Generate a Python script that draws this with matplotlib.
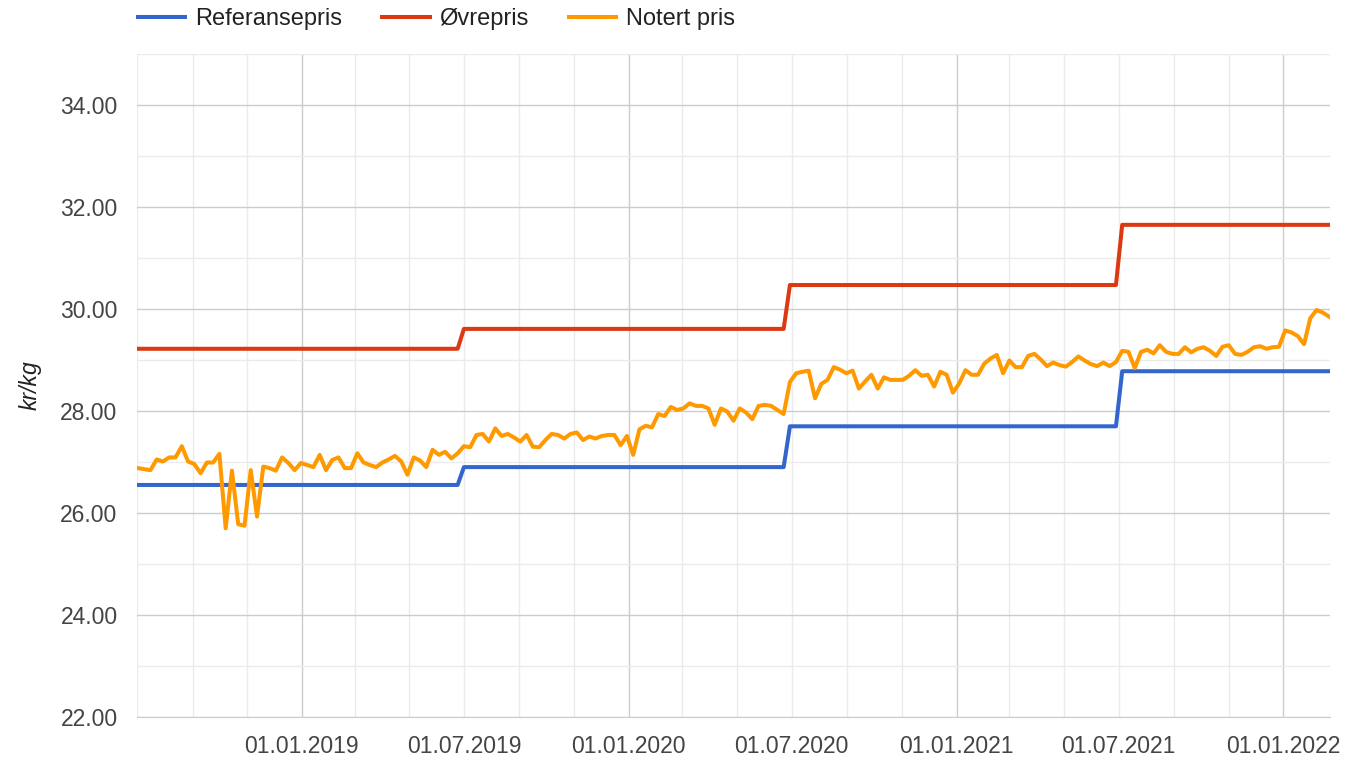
import matplotlib.pyplot as plt
import matplotlib.dates as mdates
import numpy as np
import pandas as pd

plt.rcParams['font.family'] = ['Liberation Sans', 'DejaVu Sans']

# Ukentlige noteringer (kr/kg), første uke 02.07.2018
start_week = '2018-07-02'
notert = [
    26.88, 26.86, 26.84, 27.05, 27.01, 27.09, 27.09, 27.31, 27.01, 26.96,
    26.78, 26.99, 26.99, 27.16, 25.70, 26.83, 25.78, 25.75, 26.84, 25.93,
    26.91, 26.88, 26.83, 27.09, 26.98, 26.84, 26.98, 26.94,
    26.90, 27.14, 26.84, 27.04, 27.09, 26.88, 26.88, 27.17, 26.99, 26.94,
    26.90, 26.99, 27.05, 27.12, 27.01, 26.75, 27.09, 27.03, 26.90, 27.24,
    27.14, 27.20, 27.07, 27.17, 27.31, 27.29,
    27.53, 27.55, 27.40, 27.66, 27.51, 27.55, 27.48, 27.40, 27.53, 27.30,
    27.29, 27.43, 27.55, 27.53, 27.46, 27.55, 27.58, 27.43, 27.50, 27.46,
    27.51, 27.53, 27.53, 27.33, 27.51, 27.14,
    27.64, 27.71, 27.68, 27.94, 27.90, 28.08, 28.02, 28.05, 28.15, 28.10,
    28.10, 28.05, 27.73, 28.05, 27.99, 27.81, 28.05, 27.97, 27.84, 28.10,
    28.12, 28.10, 28.02, 27.94, 28.57, 28.74,
    28.77, 28.79, 28.25, 28.53, 28.61, 28.86, 28.81, 28.74, 28.79, 28.44,
    28.58, 28.71, 28.44, 28.66, 28.61, 28.61, 28.61, 28.69, 28.80, 28.69,
    28.71, 28.48, 28.77, 28.71, 28.36, 28.54,
    28.80, 28.71, 28.71, 28.93, 29.03, 29.10, 28.74, 28.99, 28.86, 28.86,
    29.08, 29.12, 29.01, 28.88, 28.95, 28.90, 28.87, 28.96, 29.07, 28.99,
    28.92, 28.88, 28.95, 28.88, 28.96, 29.18, 29.16,
    28.84, 29.16, 29.20, 29.13, 29.29, 29.16, 29.12, 29.12, 29.25, 29.15,
    29.22, 29.25, 29.18, 29.08, 29.26, 29.29, 29.12, 29.10, 29.16, 29.25,
    29.27, 29.22, 29.25, 29.26, 29.58, 29.54, 29.47, 29.31, 29.82, 29.98,
    29.93, 29.85,
]

# Faste priser per periode, endres ved disse datoene
change_dates = ['2019-07-01', '2020-06-29', '2021-07-05']
ref_levels = [26.55, 26.90, 27.70, 28.78]
ovre_levels = [29.22, 29.61, 30.47, 31.65]

tick_dates = ['2019-01-01', '2019-07-01', '2020-01-01', '2020-07-01',
              '2021-01-01', '2021-07-01', '2022-01-01']

dates = pd.date_range(start_week, periods=len(notert), freq='7D')
period = np.searchsorted(pd.to_datetime(change_dates), dates, side='right')
referanse = np.array(ref_levels)[period]
ovre = np.array(ovre_levels)[period]

fig = plt.figure(figsize=(13.48, 7.58), dpi=100)
ax = fig.add_axes([137 / 1348, 1 - 717 / 758, (1330 - 137) / 1348, (717 - 54) / 758])

lw = 2.9
ax.plot(dates, referanse, color='#3366cc', lw=lw, label='Referansepris', solid_joinstyle='round')
ax.plot(dates, ovre, color='#dc3912', lw=lw, label='Øvrepris', solid_joinstyle='round')
ax.plot(dates, notert, color='#ff9900', lw=lw, label='Notert pris', solid_joinstyle='round')

ax.set_xlim(pd.Timestamp('2018-07-01'), dates[-1] + pd.Timedelta(days=1))
ax.set_ylim(22, 35)

# y-akse
ax.set_yticks(np.arange(22, 35, 2))
ax.set_yticks(np.arange(23, 36, 2), minor=True)
ax.set_yticklabels([f'{v:.2f}' for v in np.arange(22, 35, 2)])

# x-akse
ticks = pd.to_datetime(tick_dates)
ax.set_xticks(ticks)
ax.set_xticklabels([d.strftime('%d.%m.%Y') for d in ticks])
ax.xaxis.set_minor_locator(mdates.MonthLocator(bymonth=[1, 3, 5, 7, 9, 11]))

ax.grid(True, which='major', color='#cccccc', lw=1)
ax.grid(True, which='minor', color='#ebebeb', lw=1)
for t, d in zip(ax.xaxis.get_major_ticks(), ticks):
    if d.month != 1:
        t.gridline.set_color('#ebebeb')
ax.set_axisbelow(True)

fs = 16.5
ax.tick_params(which='both', length=0, labelsize=fs, labelcolor='#444444')
ax.tick_params(axis='y', pad=14)
ax.tick_params(axis='x', pad=13)

for s in ['top', 'right', 'left']:
    ax.spines[s].set_visible(False)
ax.spines['bottom'].set_color('#cccccc')

ax.set_ylabel('kr/kg', fontsize=fs, style='italic', color='#222222', labelpad=13)

ax.legend(loc='center left', bbox_to_anchor=(138 / 1348, 1 - 19 / 758),
          bbox_transform=fig.transFigure, ncol=3, frameon=False,
          fontsize=17, handlelength=2.0, handletextpad=0.42, columnspacing=1.7,
          borderpad=0, borderaxespad=0, labelcolor='#222222')

fig.savefig('out.png', dpi=100)
